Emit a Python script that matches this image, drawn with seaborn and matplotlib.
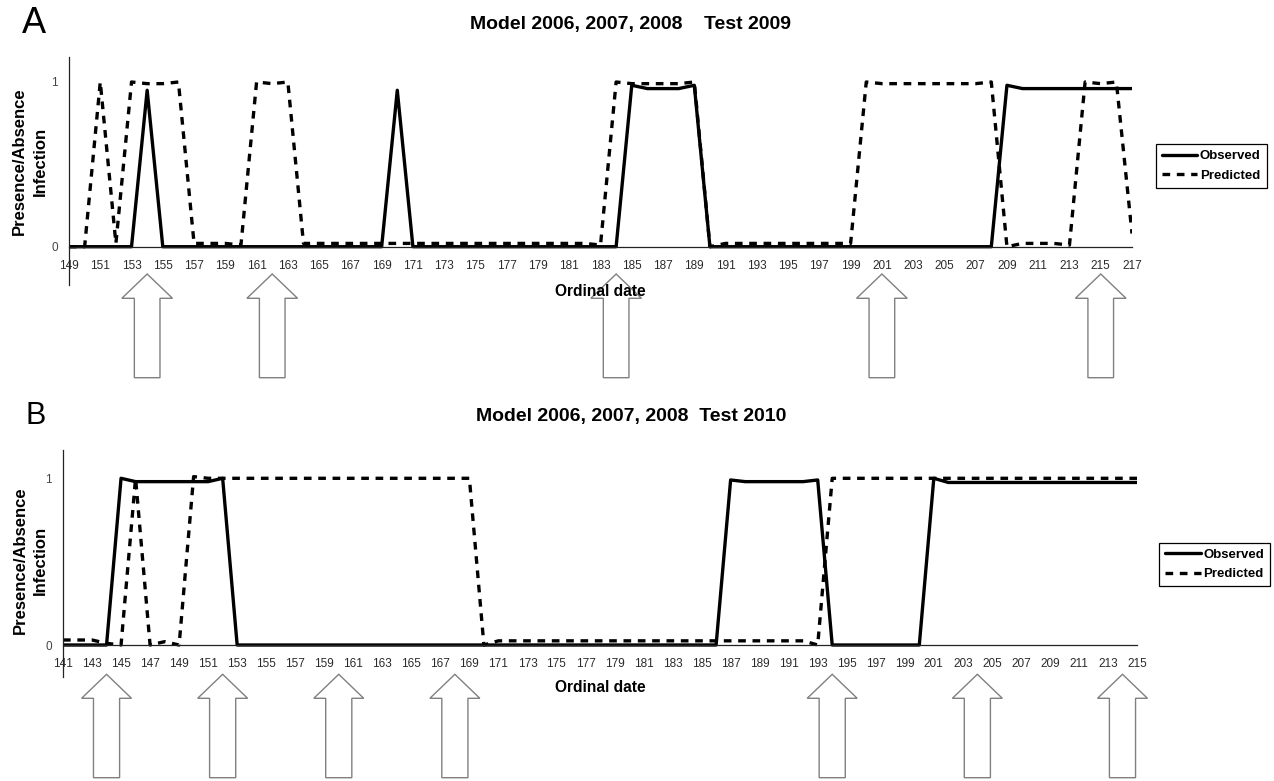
import pandas as pd
import seaborn as sns
import matplotlib.pyplot as plt
from matplotlib import font_manager
from matplotlib.patches import Polygon
from matplotlib.transforms import blended_transform_factory

# ---- panel A : Model 2006, 2007, 2008 / Test 2009 ----
days_a = list(range(149, 218))
observed_a = [
    0, 0, 0, 0, 0, 0.95, 0, 0, 0, 0,               # 149-158
    0, 0, 0, 0, 0, 0, 0, 0, 0, 0,                  # 159-168
    0, 0.95, 0, 0, 0, 0, 0, 0, 0, 0,               # 169-178
    0, 0, 0, 0, 0, 0, 0.98, 0.96, 0.96, 0.96,      # 179-188
    0.98, 0, 0, 0, 0, 0, 0, 0, 0, 0,               # 189-198
    0, 0, 0, 0, 0, 0, 0, 0, 0, 0,                  # 199-208
    0.98, 0.96, 0.96, 0.96, 0.96, 0.96, 0.96, 0.96, 0.96,  # 209-217
]
predicted_a = [
    0, 0, 1.0, 0.02, 1.0, 0.99, 0.99, 1.0, 0.02, 0.02,          # 149-158
    0.02, 0.01, 1.0, 0.99, 1.0, 0.02, 0.02, 0.02, 0.02, 0.02,   # 159-168
    0.02, 0.02, 0.02, 0.02, 0.02, 0.02, 0.02, 0.02, 0.02, 0.02, # 169-178
    0.02, 0.02, 0.02, 0.02, 0.01, 1.0, 0.99, 0.99, 0.99, 0.99,  # 179-188
    1.0, 0, 0.02, 0.02, 0.02, 0.02, 0.02, 0.02, 0.02, 0.02,     # 189-198
    0.02, 1.0, 0.99, 0.99, 0.99, 0.99, 0.99, 0.99, 0.99, 1.0,   # 199-208
    0, 0.02, 0.02, 0.02, 0.01, 1.0, 0.99, 1.0, 0.08,            # 209-217
]
ticks_a = list(range(149, 218, 2))
arrows_a = [154, 162, 184, 201, 215]

# ---- panel B : Model 2006, 2007, 2008 / Test 2010 ----
days_b = list(range(141, 216))
observed_b = [
    0, 0, 0, 0, 1.0, 0.98, 0.98, 0.98, 0.98, 0.98,             # 141-150
    0.98, 1.0, 0, 0, 0, 0, 0, 0, 0, 0,                          # 151-160
    0, 0, 0, 0, 0, 0, 0, 0, 0, 0,                               # 161-170
    0, 0, 0, 0, 0, 0, 0, 0, 0, 0,                               # 171-180
    0, 0, 0, 0, 0, 0, 0.99, 0.98, 0.98, 0.98,                   # 181-190
    0.98, 0.98, 0.99, 0, 0, 0, 0, 0, 0, 0,                      # 191-200
    1.0, 0.975, 0.975, 0.975, 0.975, 0.975, 0.975, 0.975, 0.975, 0.975,  # 201-210
    0.975, 0.975, 0.975, 0.975, 0.975,                          # 211-215
]
predicted_b = [
    0.03, 0.03, 0.03, 0.01, 0, 1.0, 0, 0.02, 0, 1.01,           # 141-150
    1.0, 1.0, 1.0, 1.0, 1.0, 1.0, 1.0, 1.0, 1.0, 1.0,           # 151-160
    1.0, 1.0, 1.0, 1.0, 1.0, 1.0, 1.0, 1.0, 1.0, 0,             # 161-170
    0.025, 0.025, 0.025, 0.025, 0.025, 0.025, 0.025, 0.025, 0.025, 0.025,  # 171-180
    0.025, 0.025, 0.025, 0.025, 0.025, 0.025, 0.025, 0.025, 0.025, 0.025,  # 181-190
    0.025, 0.025, 0, 1.0, 1.0, 1.0, 1.0, 1.0, 1.0, 1.0,         # 191-200
    1.0, 1.0, 1.0, 1.0, 1.0, 1.0, 1.0, 1.0, 1.0, 1.0,           # 201-210
    1.0, 1.0, 1.0, 1.0, 1.0,                                    # 211-215
]
ticks_b = list(range(141, 216, 2))
arrows_b = [144, 152, 160, 168, 194, 204, 214]

W, H = 1274, 781

sns.set_style("white")
plt.rcParams['font.family'] = ['Liberation Sans', 'DejaVu Sans']
plt.rcParams['text.color'] = 'black'

names = {f.name for f in font_manager.fontManager.ttflist}
if 'Liberation Sans Narrow' in names:
    tick_font = dict(family=['Liberation Sans Narrow', 'Liberation Sans'], size=9.5)
else:
    tick_font = dict(family=['Liberation Sans'], size=8.5)

fig = plt.figure(figsize=(W / 100, H / 100), dpi=100)


def px(x, y):
    # pixel position (from top-left) -> figure fraction
    return x / W, 1 - y / H


def draw_panel(left, right, top, bottom, zero_y, one_y, days, observed, predicted,
               ticks, arrows, arrow_px, head_hw, shaft_hw, legend_xy):
    x0, y0 = px(left, bottom)
    x1, y1 = px(right, top)
    ax = fig.add_axes([x0, y0, x1 - x0, y1 - y0])
    df = pd.DataFrame({'day': days, 'Observed': observed, 'Predicted': predicted})

    sns.lineplot(data=df, x='day', y='Observed', ax=ax, color='black', lw=2.4,
                 label='Observed')
    sns.lineplot(data=df, x='day', y='Predicted', ax=ax, color='black', lw=2.4,
                 linestyle=(0, (2.3, 2.0)), label='Predicted')

    unit = zero_y - one_y
    ax.set_xlim(days[0], days[-1])
    ax.set_ylim((zero_y - bottom) / unit, (zero_y - top) / unit)

    for s in ['top', 'right']:
        ax.spines[s].set_visible(False)
    ax.spines['bottom'].set_position(('data', 0))
    for s in ['left', 'bottom']:
        ax.spines[s].set_color('#222222')
        ax.spines[s].set_linewidth(0.9)

    ax.set_xticks(ticks)
    ax.set_xticklabels([str(t) for t in ticks], fontdict=tick_font, color='#2a2a2a')
    ax.tick_params(axis='x', direction='out', length=3.6, width=0.8, pad=6.0,
                   color='#333333')
    ax.set_yticks([0, 1])
    ax.set_yticklabels(['0', '1'], fontdict=tick_font, color='#444444')
    ax.tick_params(axis='y', direction='inout', length=13.7, width=0.8, pad=1,
                   color='#333333')
    ax.set_xlabel('')
    ax.set_ylabel('')

    # hollow arrows below the axis
    blend = blended_transform_factory(ax.transData, fig.transFigure)
    tip, base, foot = [1 - v / H for v in arrow_px]
    for d in arrows:
        verts = [(d, tip), (d + head_hw, base), (d + shaft_hw, base),
                 (d + shaft_hw, foot), (d - shaft_hw, foot), (d - shaft_hw, base),
                 (d - head_hw, base)]
        ax.add_patch(Polygon(verts, closed=True, transform=blend, clip_on=False,
                             facecolor='white', edgecolor='#808080', lw=1.0))
    ax.set_xlim(days[0], days[-1])

    leg = ax.legend(loc='upper left', bbox_to_anchor=px(*legend_xy),
                    bbox_transform=fig.transFigure, frameon=True, fancybox=False,
                    framealpha=1, edgecolor='black', borderaxespad=0,
                    handlelength=2.7, handletextpad=0.2, borderpad=0.45,
                    labelspacing=0.55,
                    prop=dict(family='Liberation Sans', weight='bold', size=9.5))
    leg.get_frame().set_linewidth(0.9)
    return ax


ax_a = draw_panel(69, 1132, 57, 285, 246.7, 82.0, days_a, observed_a, predicted_a,
                  ticks_a, arrows_a, (274, 298.3, 377.7), 1.62, 0.82, (1155.7, 144.3))
ax_b = draw_panel(63, 1137, 450, 677, 645.0, 478.3, days_b, observed_b, predicted_b,
                  ticks_b, arrows_b, (674.3, 698.3, 777.7), 1.72, 0.9, (1159.3, 542.7))

# titles, letters, axis labels
fig.text(*px(631, 24), 'Model 2006, 2007, 2008    Test 2009', ha='center', va='center',
         fontsize=14, weight='bold')
fig.text(*px(631, 417), 'Model 2006, 2007, 2008  Test 2010', ha='center', va='center',
         fontsize=14, weight='bold')
fig.text(*px(34, 23.5), 'A', ha='center', va='center', fontsize=26)
fig.text(*px(36, 416), 'B', ha='center', va='center', fontsize=22)
fig.text(*px(600, 292), 'Ordinal date', ha='center', va='center', fontsize=11.2,
         weight='bold')
fig.text(*px(600, 688), 'Ordinal date', ha='center', va='center', fontsize=11.2,
         weight='bold')
fig.text(*px(30, 161), 'Presence/Absence\nInfection', ha='center', va='center',
         rotation=90, fontsize=12, weight='bold', linespacing=1.45, multialignment='center')
fig.text(*px(30.5, 560), 'Presence/Absence\nInfection', ha='center', va='center',
         rotation=90, fontsize=12, weight='bold', linespacing=1.45, multialignment='center')

fig.savefig('out.png', dpi=100)
